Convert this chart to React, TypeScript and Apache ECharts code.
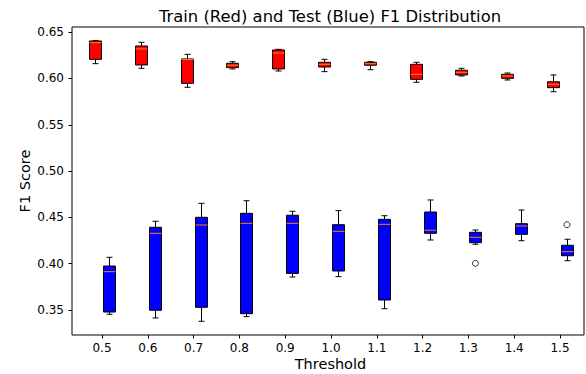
import React, { useEffect, useRef } from "react";
import * as echarts from "echarts";

const thresholds = [0.5, 0.6, 0.7, 0.8, 0.9, 1.0, 1.1, 1.2, 1.3, 1.4, 1.5];

// Train (red) box statistics
const trainLow = [0.616, 0.611, 0.5905, 0.6103, 0.6081, 0.6074, 0.6095, 0.5959, 0.6027, 0.5984, 0.5857];
const trainQ1 = [0.6207, 0.6146, 0.5948, 0.6117, 0.6103, 0.6124, 0.6143, 0.5991, 0.6038, 0.6002, 0.5901];
const trainMedian = [0.6387, 0.6319, 0.6205, 0.6143, 0.6275, 0.6153, 0.616, 0.6045, 0.6067, 0.6027, 0.5937];
const trainQ3 = [0.6405, 0.6351, 0.6211, 0.6164, 0.6308, 0.6175, 0.6175, 0.6153, 0.6089, 0.6045, 0.5965];
const trainHigh = [0.6408, 0.6391, 0.6261, 0.6181, 0.6315, 0.6207, 0.6181, 0.6175, 0.611, 0.6059, 0.6038];

// Test (blue) box statistics
const testLow = [0.3454, 0.3414, 0.3378, 0.3428, 0.3856, 0.386, 0.3514, 0.4256, 0.421, 0.4248, 0.4032];
const testQ1 = [0.3478, 0.3497, 0.3529, 0.346, 0.3895, 0.3921, 0.3608, 0.4328, 0.4227, 0.4317, 0.4086];
const testMedian = [0.3914, 0.4328, 0.4418, 0.4436, 0.4436, 0.435, 0.4425, 0.4361, 0.4285, 0.4407, 0.413];
const testQ3 = [0.3975, 0.4393, 0.4501, 0.4544, 0.4523, 0.4421, 0.4479, 0.4558, 0.4339, 0.4432, 0.4199];
const testHigh = [0.4069, 0.4458, 0.4652, 0.468, 0.4566, 0.4573, 0.4518, 0.4688, 0.4364, 0.458, 0.4264];

// Test outliers: [threshold, value]
const testOutliers = [
  [1.3, 0.4004],
  [1.5, 0.4421],
];

const yTicks = [0.35, 0.4, 0.45, 0.5, 0.55, 0.6, 0.65];

const OFFSET = 0.0153;
const BOX_W = 0.026;
const FONT = "DejaVu Sans";

function boxData(low: number[], q1: number[], med: number[], q3: number[], high: number[], sign: number) {
  return thresholds.map((t, i) => [t + sign * OFFSET, low[i], q1[i], med[i], q3[i], high[i]]);
}

function makeRenderItem(fill: string) {
  return (params: any, api: any) => {
    const x = api.value(0);
    const lo = api.coord([x, api.value(1)]);
    const q1 = api.coord([x, api.value(2)]);
    const md = api.coord([x, api.value(3)]);
    const q3 = api.coord([x, api.value(4)]);
    const hi = api.coord([x, api.value(5)]);
    const w = api.size([BOX_W, 0])[0];
    const cx = Math.round(lo[0]) + 0.5;
    const hw = w / 2;
    const capHw = w / 4;
    const line = { stroke: "#000", lineWidth: 1 };
    return {
      type: "group",
      children: [
        { type: "line", shape: { x1: cx, y1: lo[1], x2: cx, y2: q1[1] }, style: line },
        { type: "line", shape: { x1: cx, y1: q3[1], x2: cx, y2: hi[1] }, style: line },
        { type: "line", shape: { x1: cx - capHw, y1: lo[1], x2: cx + capHw, y2: lo[1] }, style: line },
        { type: "line", shape: { x1: cx - capHw, y1: hi[1], x2: cx + capHw, y2: hi[1] }, style: line },
        {
          type: "rect",
          shape: { x: cx - hw, y: q3[1], width: w, height: q1[1] - q3[1] },
          style: { fill, stroke: "#000", lineWidth: 1 },
        },
        {
          type: "line",
          shape: { x1: cx - hw, y1: md[1], x2: cx + hw, y2: md[1] },
          style: { stroke: "#ff7f0e", lineWidth: 1 },
        },
      ],
    };
  };
}

export default function App() {
  const ref = useRef<HTMLDivElement>(null);
  useEffect(() => {
    document.body.style.margin = "0";
    if (!ref.current) return;
    const chart = echarts.init(ref.current, null, { renderer: "svg" });
    chart.setOption({
      animation: false,
      backgroundColor: "#fff",
      textStyle: { fontFamily: FONT },
      grid: {
        left: 72,
        right: 2,
        top: 27,
        bottom: 39,
        show: true,
        borderColor: "#000",
        borderWidth: 1,
        backgroundColor: "transparent",
      },
      xAxis: {
        type: "value",
        min: 0.4345,
        max: 1.5524,
        axisLine: { show: false },
        splitLine: { show: false },
        axisTick: { show: true, length: 3.5, customValues: thresholds, lineStyle: { color: "#000" } },
        axisLabel: {
          customValues: thresholds,
          formatter: (v: number) => v.toFixed(1),
          fontSize: 12,
          color: "#000",
          fontFamily: FONT,
          margin: 7,
        },
      },
      yAxis: {
        type: "value",
        min: 0.323,
        max: 0.6556,
        axisLine: { show: false },
        splitLine: { show: false },
        axisTick: { show: true, length: 3.5, customValues: yTicks, lineStyle: { color: "#000" } },
        axisLabel: {
          customValues: yTicks,
          formatter: (v: number) => v.toFixed(2),
          fontSize: 12,
          color: "#000",
          fontFamily: FONT,
          margin: 8,
        },
      },
      graphic: [
        {
          type: "text",
          x: 330,
          y: 16,
          style: {
            text: "Train (Red) and Test (Blue) F1 Distribution",
            fontSize: 16.4,
            fontFamily: FONT,
            fill: "#000",
            align: "center",
            verticalAlign: "middle",
          },
        },
        {
          type: "text",
          x: 330.5,
          y: 364,
          style: {
            text: "Threshold",
            fontSize: 14.5,
            fontFamily: FONT,
            fill: "#000",
            align: "center",
            verticalAlign: "middle",
          },
        },
        {
          type: "text",
          x: 25,
          y: 181,
          rotation: Math.PI / 2,
          style: {
            text: "F1 Score",
            fontSize: 14.5,
            fontFamily: FONT,
            fill: "#000",
            align: "center",
            verticalAlign: "middle",
          },
        },
      ],
      series: [
        {
          name: "Train",
          type: "custom",
          renderItem: makeRenderItem("#ff0000"),
          data: boxData(trainLow, trainQ1, trainMedian, trainQ3, trainHigh, -1),
          encode: { x: 0, y: [1, 2, 3, 4, 5] },
        },
        {
          name: "Test",
          type: "custom",
          renderItem: makeRenderItem("#0000ff"),
          data: boxData(testLow, testQ1, testMedian, testQ3, testHigh, 1),
          encode: { x: 0, y: [1, 2, 3, 4, 5] },
        },
        {
          name: "Test outliers",
          type: "scatter",
          symbol: "circle",
          symbolSize: 6,
          itemStyle: { color: "#fff", borderColor: "#000", borderWidth: 1 },
          data: testOutliers.map(([t, v]) => [t + OFFSET, v]),
        },
      ],
    });
    return () => chart.dispose();
  }, []);
  return (
    <div
      ref={ref}
      style={{ position: "absolute", left: 0, top: 0, width: 586, height: 374 }}
    />
  );
}
